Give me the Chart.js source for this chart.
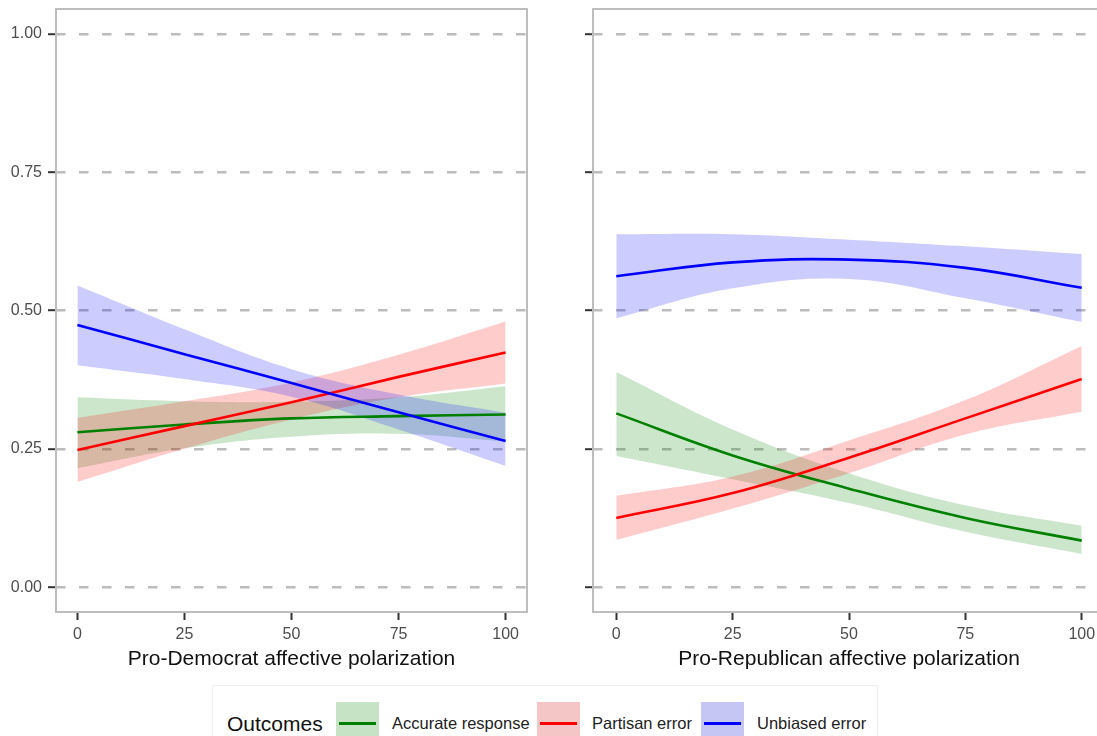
<!DOCTYPE html>
<html>
<head>
<meta charset="utf-8">
<script src="https://cdn.jsdelivr.net/npm/chart.js@4/dist/chart.umd.min.js"></script>
<style>
  html, body { margin: 0; padding: 0; background: #fff; }
  body { width: 1097px; height: 736px; overflow: hidden; position: relative;
         font-family: "Liberation Sans", Arial, Helvetica, sans-serif; }
  canvas { position: absolute; top: 0; }
  #cDem { left: 0; }
  #cRep { left: 560px; }
  #legend { position: absolute; left: 212px; top: 685px; width: 664px; height: 70px;
            border: 1px solid #eeeeee; background: #fff; }
  .lg { position: absolute; white-space: nowrap; }
  .lgTitle { font-size: 21px; color: #111; }
  .lgText { font-size: 16.5px; color: #222; }
  .key { position: absolute; width: 43px; height: 43px; }
  .key i { position: absolute; left: 3px; right: 3px; top: 20px; height: 3px; display: block; }
</style>
</head>
<body>
<canvas id="cDem" width="545" height="685"></canvas>
<canvas id="cRep" width="560" height="685"></canvas>

<div id="legend"></div>

<script>
// x positions of the model predictions (affective polarization, 0-100)
const xValues = [0, 25, 50, 75, 100];
const xTicks = [0, 25, 50, 75, 100];
const yTicks = [0, 0.25, 0.5, 0.75, 1];

const seriesNames = ['Accurate response', 'Partisan error', 'Unbiased error'];
const lineColors = ['#008000', '#ff0000', '#0000ff'];
const bandColors = ['rgba(0,128,0,0.2)', 'rgba(255,0,0,0.2)', 'rgba(0,0,255,0.2)'];
const keyColors = ['#c6e3c6', '#f5c6c6', '#c6c6f4'];

// Pro-Democrat affective polarization
const demAccurate     = [0.280, 0.294, 0.305, 0.309, 0.312];
const demAccurateLow  = [0.215, 0.251, 0.272, 0.277, 0.263];
const demAccurateHigh = [0.343, 0.336, 0.335, 0.343, 0.363];
const demPartisan     = [0.248, 0.291, 0.334, 0.380, 0.424];
const demPartisanLow  = [0.190, 0.250, 0.303, 0.343, 0.368];
const demPartisanHigh = [0.306, 0.336, 0.370, 0.420, 0.480];
const demUnbiased     = [0.474, 0.421, 0.369, 0.316, 0.264];
const demUnbiasedLow  = [0.401, 0.376, 0.344, 0.285, 0.219];
const demUnbiasedHigh = [0.545, 0.466, 0.394, 0.348, 0.315];

// Pro-Republican affective polarization
const repAccurate     = [0.314, 0.238, 0.178, 0.125, 0.084];
const repAccurateLow  = [0.237, 0.195, 0.152, 0.100, 0.060];
const repAccurateHigh = [0.389, 0.285, 0.206, 0.148, 0.111];
const repPartisan     = [0.125, 0.170, 0.234, 0.305, 0.376];
const repPartisanLow  = [0.085, 0.142, 0.206, 0.276, 0.317];
const repPartisanHigh = [0.165, 0.200, 0.265, 0.338, 0.436];
const repUnbiased     = [0.562, 0.587, 0.592, 0.577, 0.541];
const repUnbiasedLow  = [0.486, 0.540, 0.557, 0.522, 0.479];
const repUnbiasedHigh = [0.638, 0.638, 0.628, 0.616, 0.602];

const FONT = '"Liberation Sans", Arial, Helvetica, sans-serif';

function pts(ys) { return xValues.map((x, i) => ({ x: x, y: ys[i] })); }

const smooth = { tension: 0.4, cubicInterpolationMode: 'default' };

function lineDs(i, ys) {
  return Object.assign({ label: seriesNames[i], data: pts(ys), borderColor: lineColors[i],
           borderWidth: 2.6, pointRadius: 0, fill: false }, smooth);
}
function edgeDs(ys) {
  return Object.assign({ data: pts(ys), borderColor: 'rgba(0,0,0,0)', borderWidth: 0,
           pointRadius: 0, fill: false }, smooth);
}
function upperDs(i, ys) {
  return Object.assign({ data: pts(ys), borderColor: 'rgba(0,0,0,0)', borderWidth: 0,
           pointRadius: 0, backgroundColor: bandColors[i], fill: '-1' }, smooth);
}

// Lines first in the array (drawn on top); ribbons last so the
// accurate-response ribbon sits underneath the others.
function buildDatasets(s) {
  return [
    lineDs(2, s.unb), lineDs(1, s.par), lineDs(0, s.acc),
    edgeDs(s.unbLo), upperDs(2, s.unbHi),
    edgeDs(s.parLo), upperDs(1, s.parHi),
    edgeDs(s.accLo), upperDs(0, s.accHi)
  ];
}

const panelBorder = {
  id: 'panelBorder',
  afterDatasetsDraw(chart) {
    const a = chart.chartArea, ctx = chart.ctx;
    ctx.save();
    ctx.strokeStyle = '#bdbdbd';
    ctx.lineWidth = 2;
    ctx.strokeRect(a.left, a.top, a.right - a.left, a.bottom - a.top);
    ctx.restore();
  }
};

function noPad(s) { s.paddingTop = 0; s.paddingBottom = 0; s.paddingLeft = 0; s.paddingRight = 0; }

function makeChart(id, series, title, opts) {
  return new Chart(document.getElementById(id), {
    type: 'line',
    data: { datasets: buildDatasets(series) },
    plugins: [panelBorder],
    options: {
      responsive: false,
      animation: false,
      events: [],
      layout: { padding: { top: 9, right: opts.padRight, bottom: 13, left: 0 } },
      plugins: {
        legend: { display: false },
        tooltip: { enabled: false },
        filler: { drawTime: 'beforeDatasetsDraw' }
      },
      scales: {
        x: {
          type: 'linear', min: -5, max: 105,
          afterBuildTicks: s => { s.ticks = xTicks.map(v => ({ value: v })); },
          afterFit: s => { s.height = 60; noPad(s); },
          grid: { drawOnChartArea: false, drawTicks: true, tickLength: 8,
                  tickColor: '#333', tickWidth: 2, tickBorderDash: [] },
          border: { display: false },
          ticks: { autoSkip: false, maxRotation: 0, padding: 5, color: '#4d4d4d',
                   font: { family: FONT, size: 16 }, callback: v => String(v) },
          title: { display: true, text: title, color: '#111', padding: 0,
                   font: { family: FONT, size: 21 } }
        },
        y: {
          type: 'linear', min: -0.045, max: 1.045,
          afterBuildTicks: s => { s.ticks = yTicks.map(v => ({ value: v })); },
          afterFit: s => { s.width = opts.yWidth; noPad(s); },
          grid: { drawOnChartArea: true, drawTicks: true, tickLength: 8,
                  color: '#bcbcbc', lineWidth: 2.4,
                  tickColor: '#333', tickWidth: 2, tickBorderDash: [] },
          border: { display: false, dash: [9.5, 13.5] },
          ticks: { display: opts.yLabels, autoSkip: false, padding: 6, color: '#4d4d4d',
                   font: { family: FONT, size: 16 }, callback: v => Number(v).toFixed(2) }
        }
      }
    }
  });
}

makeChart('cDem', {
  acc: demAccurate, accLo: demAccurateLow, accHi: demAccurateHigh,
  par: demPartisan, parLo: demPartisanLow, parHi: demPartisanHigh,
  unb: demUnbiased, unbLo: demUnbiasedLow, unbHi: demUnbiasedHigh
}, 'Pro-Democrat affective polarization', { padRight: 18, yWidth: 56, yLabels: true });

makeChart('cRep', {
  acc: repAccurate, accLo: repAccurateLow, accHi: repAccurateHigh,
  par: repPartisan, parLo: repPartisanLow, parHi: repPartisanHigh,
  unb: repUnbiased, unbLo: repUnbiasedLow, unbHi: repUnbiasedHigh
}, 'Pro-Republican affective polarization', { padRight: 15, yWidth: 33, yLabels: false });

// Legend: "Outcomes" followed by one key per series
(function buildLegend() {
  const lg = document.getElementById('legend');
  const left0 = 212, top0 = 685;
  const place = (el, x, y) => { el.style.left = (x - left0) + 'px'; el.style.top = (y - top0) + 'px'; lg.appendChild(el); };
  const t = document.createElement('div');
  t.className = 'lg lgTitle'; t.textContent = 'Outcomes';
  place(t, 226, 711);
  const keyX = [335, 536, 700];
  const textX = [391, 591, 756];
  seriesNames.forEach((name, i) => {
    const k = document.createElement('div');
    k.className = 'key'; k.style.background = keyColors[i];
    const ln = document.createElement('i'); ln.style.background = lineColors[i];
    k.appendChild(ln);
    place(k, keyX[i], 701);
    const tx = document.createElement('div');
    tx.className = 'lg lgText'; tx.textContent = name;
    place(tx, textX[i], 713);
  });
})();
</script>
</body>
</html>
